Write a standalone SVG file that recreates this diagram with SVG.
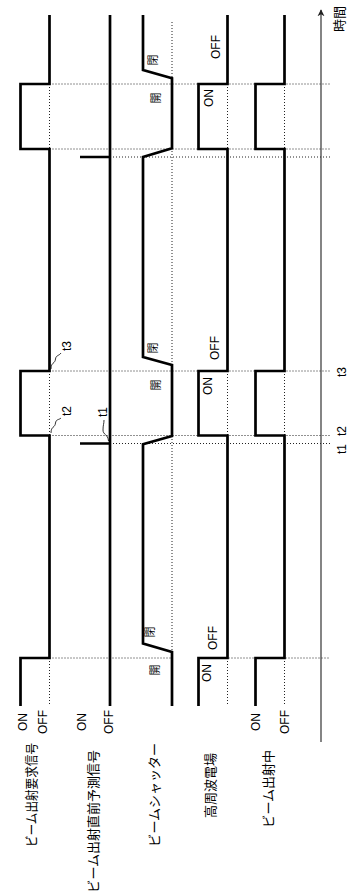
<svg xmlns="http://www.w3.org/2000/svg" width="351" height="894" viewBox="0 0 351 894">
<defs>
<style>
.sig{fill:none;stroke:#000;stroke-width:2.7;stroke-linejoin:miter;stroke-linecap:butt}
.dot{fill:none;stroke:#222;stroke-width:1;stroke-dasharray:1 2}
.lead{fill:none;stroke:#000;stroke-width:0.8}
.lat{font-family:"Liberation Sans",Arial,sans-serif;font-size:12px;fill:#000;dominant-baseline:central}
.cjk{font-family:"Noto Sans CJK JP",sans-serif;font-size:13px;fill:#000;dominant-baseline:central}
.sm{font-family:"Noto Sans CJK JP",sans-serif;font-size:11px;fill:#000;dominant-baseline:central;text-anchor:middle}
</style>
<marker id="arr" viewBox="0 0 10 10" refX="9" refY="5" markerWidth="7" markerHeight="9" markerUnits="userSpaceOnUse" orient="auto">
<path d="M0,0 L10,5 L0,10 L3,5 Z" fill="#222"/>
</marker>
</defs>
<rect width="351" height="894" fill="#fff"/>

<g id="grid">
<path class="dot" d="M49.5,84 H330 M49.5,149 H330 M110,157 H330"/>
<path class="dot" d="M49.5,371 H330 M49.5,435.5 H330 M110,443.5 H330"/>
<path class="dot" d="M49.5,658 H172 M198.5,658 H330"/>
<path class="dot" d="M49.5,84 V149 M49.5,371 V435.5 M49.5,658 V706"/>
<path class="dot" d="M227.5,84 V149 M227.5,371 V435.5 M227.5,658 V706"/>
<path class="dot" d="M284.5,84 V149 M284.5,371 V435.5 M284.5,658 V706"/>
<path class="dot" d="M172,22 V652"/>
</g>

<g id="axis">
<line x1="321" y1="742" x2="321" y2="10" stroke="#333" stroke-width="1.2" marker-end="url(#arr)"/>
<text class="cjk" text-anchor="end" transform="translate(338,6) rotate(-90)">時間</text>
</g>

<g id="beam-request">
<path class="sig" d="M49.5,15 V84 H20.5 V149 H49.5 V371 H20.5 V435.5 H49.5 V658 H20.5 V706"/>
<text class="lat" text-anchor="end" transform="translate(22.5,713) rotate(-90)">ON</text>
<text class="lat" text-anchor="end" transform="translate(42.5,710) rotate(-90)">OFF</text>
<text class="cjk" text-anchor="end" textLength="104" lengthAdjust="spacingAndGlyphs" transform="translate(30,743) rotate(-90)">ビーム出射要求信号</text>
</g>

<g id="beam-predict">
<path class="sig" d="M110,15 V706 M80,157 H110 M80,443.5 H110"/>
<text class="lat" text-anchor="end" transform="translate(81.5,713) rotate(-90)">ON</text>
<text class="lat" text-anchor="end" transform="translate(108.5,710) rotate(-90)">OFF</text>
<text class="cjk" text-anchor="end" transform="translate(92,750) rotate(-90)">ビーム出射直前予測信号</text>
</g>

<g id="shutter">
<path class="sig" d="M143,15 V70 L172,78.3 V148.3 L143,157 V357 L172,365 V436 L143,444.3 V643.5 L172,652 V706"/>
<text class="sm" transform="translate(152,60) rotate(-90)">閉</text>
<text class="sm" transform="translate(155,98) rotate(-90)">開</text>
<text class="sm" transform="translate(152,348) rotate(-90)">閉</text>
<text class="sm" transform="translate(155,385) rotate(-90)">開</text>
<text class="sm" transform="translate(149,632) rotate(-90)">閉</text>
<text class="sm" transform="translate(153.5,670) rotate(-90)">開</text>
<text class="cjk" text-anchor="end" transform="translate(153,743) rotate(-90)">ビームシャッター</text>
</g>

<g id="rf-field">
<path class="sig" d="M227.5,15 V84 H198.5 V149 H227.5 V371 H198.5 V435.5 H227.5 V658 H198.5 V706"/>
<text class="lat" text-anchor="middle" transform="translate(209,98) rotate(-90)">ON</text>
<text class="lat" text-anchor="middle" transform="translate(216,47) rotate(-90)">OFF</text>
<text class="lat" text-anchor="middle" transform="translate(207.5,386) rotate(-90)">ON</text>
<text class="lat" text-anchor="middle" transform="translate(215,348) rotate(-90)">OFF</text>
<text class="lat" text-anchor="middle" transform="translate(207,673) rotate(-90)">ON</text>
<text class="lat" text-anchor="middle" transform="translate(213,638) rotate(-90)">OFF</text>
<text class="cjk" text-anchor="end" transform="translate(209,753) rotate(-90)">高周波電場</text>
</g>

<g id="beam-emitting">
<path class="sig" d="M284.5,15 V84 H255.5 V149 H284.5 V371 H255.5 V435.5 H284.5 V658 H255.5 V706"/>
<text class="lat" text-anchor="end" transform="translate(256,713) rotate(-90)">ON</text>
<text class="lat" text-anchor="end" transform="translate(284.5,710) rotate(-90)">OFF</text>
<text class="cjk" text-anchor="end" transform="translate(267,750) rotate(-90)">ビーム出射中</text>
</g>

<g id="connectors">
<path class="lead" d="M51,369 C51,362 55,364 55.5,359 C56,355 59,356 61,353"/>
<path class="lead" d="M51,433 C51,426 55,428 55.5,423 C56,419 59,420 61,418"/>
<path class="lead" d="M108.5,441 C108,434 103,435 103,430 C103,425 104,424 104,420"/>
</g>

<g id="time-labels">
<text class="lat" text-anchor="middle" transform="translate(67,346) rotate(-90)">t3</text>
<text class="lat" text-anchor="middle" transform="translate(67,411) rotate(-90)">t2</text>
<text class="lat" text-anchor="middle" transform="translate(103,412) rotate(-90)">t1</text>
<text class="lat" text-anchor="middle" transform="translate(342,372) rotate(-90)">t3</text>
<text class="lat" text-anchor="middle" transform="translate(342,431) rotate(-90)">t2</text>
<text class="lat" text-anchor="middle" transform="translate(342,449) rotate(-90)">t1</text>
</g>
</svg>
